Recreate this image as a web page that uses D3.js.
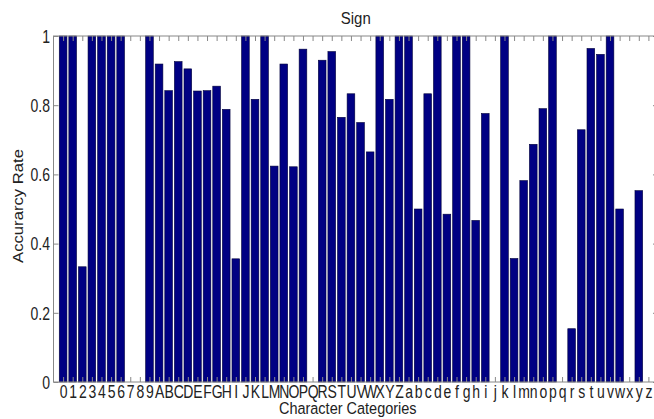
<!DOCTYPE html>
<html>
<head>
<meta charset="utf-8">
<script src="https://cdn.jsdelivr.net/npm/d3@7"></script>
<style>
  html, body { margin: 0; padding: 0; background: #fff; overflow: hidden; }
  text { font-family: "Liberation Sans", Arial, sans-serif; fill: #222; }
</style>
</head>
<body>
<div id="chart"></div>
<script>

const digits = "0123456789".split("");
const upper  = "ABCDEFGHIJKLMNOPQRSTUVWXYZ".split("");
const lower  = "abcdefghijklmnopqrstuvwxyz".split("");
const categories = digits.concat(upper, lower);

const digitRates = [1, 1, 0.333, 1, 1, 1, 1, 0, 0, 1];
const upperRates = [0.919, 0.842, 0.926, 0.905, 0.841, 0.842, 0.855, 0.788, 0.356, 1,
                    0.817, 1, 0.624, 0.919, 0.622, 0.962, 0, 0.93, 0.955, 0.765,
                    0.833, 0.75, 0.665, 1, 0.817, 1];
const lowerRates = [1, 0.5, 0.833, 1, 0.485, 1, 1, 0.467, 0.776, 0,
                    1, 0.357, 0.582, 0.687, 0.79, 1, 0, 0.154, 0.729, 0.964,
                    0.947, 1, 0.5, 0, 0.553, 0];
const rates = digitRates.concat(upperRates, lowerRates);

const yTicks = [0, 0.2, 0.4, 0.6, 0.8, 1];

const data = categories.map((c, i) => ({ label: c, pos: i + 1, value: rates[i] }));

const width = 654, height = 419;
const margin = { top: 36, right: -4, bottom: 37, left: 53.5 };
const innerWidth  = width  - margin.left - margin.right;
const innerHeight = height - margin.top  - margin.bottom;

// the picture's text is a bit taller than it is wide
const stretch = 1.25;

const svg = d3.select("#chart")
  .append("svg")
    .attr("width", width)
    .attr("height", height)
    .style("display", "block");

const g = svg.append("g")
    .attr("transform", `translate(${margin.left},${margin.top})`);

const x = d3.scaleLinear()
    .domain([0, categories.length + 1])
    .range([0, innerWidth]);

const y = d3.scaleLinear()
    .domain([0, 1])
    .range([innerHeight, 0]);

const step = x(1) - x(0);
const barW = step * 0.8;

g.append("g")
  .selectAll("rect")
  .data(data.filter(d => d.value > 0))
  .join("rect")
    .attr("x", d => x(d.pos) - barW / 2)
    .attr("y", d => y(d.value))
    .attr("width", barW)
    .attr("height", d => innerHeight - y(d.value))
    .attr("fill", "#000083")
    .attr("stroke", "#00003a")
    .attr("stroke-width", 0.6);

const axisColor = "#888";
const tickLen = 5;

// box
g.append("rect")
    .attr("x", 0).attr("y", 0)
    .attr("width", innerWidth).attr("height", innerHeight)
    .attr("fill", "none")
    .attr("stroke", axisColor)
    .attr("stroke-width", 1);

// x ticks, inward on bottom and top
const xAxisB = d3.axisBottom(x)
    .tickValues(data.map(d => d.pos))
    .tickFormat((d, i) => categories[i])
    .tickSizeInner(-tickLen)
    .tickSizeOuter(0);

g.append("g")
    .attr("transform", `translate(0,${innerHeight})`)
    .call(xAxisB)
    .call(a => a.select(".domain").remove())
    .call(a => a.selectAll("line").attr("stroke", axisColor))
    .call(a => a.selectAll("text")
        .attr("y", 0)
        .attr("dy", null)
        .attr("transform", `translate(0,15.5) scale(1,${stretch})`)
        .attr("fill", "#222")
        .style("font-family", "'Liberation Sans', Arial, sans-serif")
        .style("font-size", "14px"));

const xAxisT = d3.axisTop(x)
    .tickValues(data.map(d => d.pos))
    .tickFormat("")
    .tickSizeInner(-tickLen)
    .tickSizeOuter(0);

g.append("g")
    .call(xAxisT)
    .call(a => a.select(".domain").remove())
    .call(a => a.selectAll("line").attr("stroke", axisColor));

// y ticks, inward on left and right
const yAxisL = d3.axisLeft(y)
    .tickValues(yTicks)
    .tickFormat(d3.format("~g"))
    .tickSizeInner(-tickLen)
    .tickSizeOuter(0)
    .tickPadding(3.5);

g.append("g")
    .call(yAxisL)
    .call(a => a.select(".domain").remove())
    .call(a => a.selectAll("line").attr("stroke", axisColor))
    .call(a => a.selectAll("text")
        .attr("y", 0)
        .attr("dy", "0.36em")
        .attr("transform", `scale(1,${stretch})`)
        .attr("fill", "#222")
        .style("font-family", "'Liberation Sans', Arial, sans-serif")
        .style("font-size", "14px"));

const yAxisR = d3.axisRight(y)
    .tickValues(yTicks)
    .tickFormat("")
    .tickSizeInner(-tickLen)
    .tickSizeOuter(0);

g.append("g")
    .attr("transform", `translate(${innerWidth},0)`)
    .call(yAxisR)
    .call(a => a.select(".domain").remove())
    .call(a => a.selectAll("line").attr("stroke", axisColor));

// title and labels
const plotMid = (x.range()[0] + x.range()[1]) / 2;

g.append("text")
    .attr("transform", `translate(${plotMid},-12.5) scale(1,1.1)`)
    .attr("text-anchor", "middle")
    .style("font-size", "15px")
    .text("Sign");

g.append("text")
    .attr("transform", `translate(${plotMid - 8},${innerHeight + 32}) scale(1,1.2)`)
    .attr("text-anchor", "middle")
    .style("font-size", "14.5px")
    .text("Character Categories");

g.append("text")
    .attr("transform", `translate(-31,${innerHeight / 2 - 3}) rotate(-90) scale(${stretch * 0.92},1)`)
    .attr("text-anchor", "middle")
    .style("font-size", "14.5px")
    .text("Accurarcy Rate");
</script>
</body>
</html>
